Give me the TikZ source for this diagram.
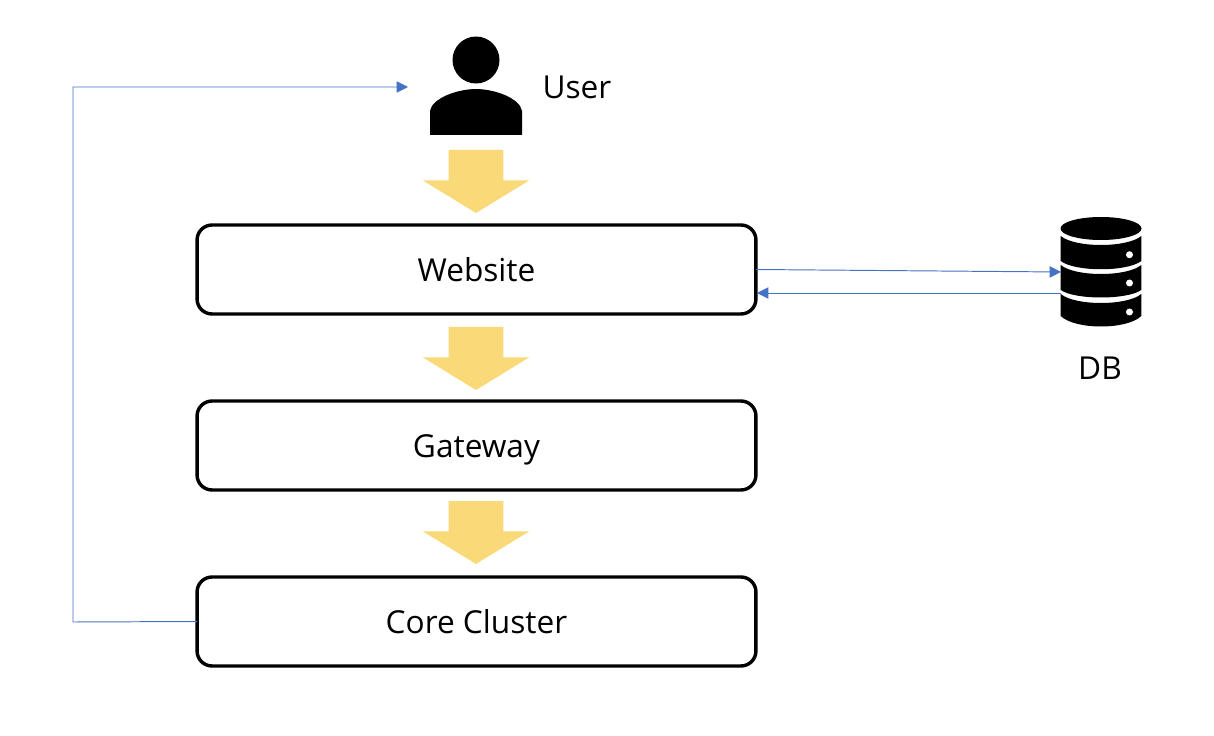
\documentclass[tikz,border=0pt]{standalone}
\usepackage{fontspec}
\setmainfont{Open Sans}
\usetikzlibrary{arrows.meta,shapes.arrows}
\definecolor{flowyellow}{HTML}{F9D978}
\definecolor{linkblue}{HTML}{4472C4}
\tikzset{
    layerbox/.style={draw,line width=1.95pt,rounded corners=0.3cm,minimum width=11.18cm,minimum height=1.78cm,outer sep=0pt,text height=0.5cm,text depth=0pt,font=\fontsize{18}{22}\selectfont},
    caption/.style={inner sep=0pt,font=\fontsize{18}{22}\selectfont},
    flowarrow/.style={fill=flowyellow,single arrow,single arrow tip angle=117,single arrow head extend=0.52cm,minimum width=2.12cm,minimum height=1.26cm,inner xsep=0pt,inner ysep=0.54cm,outer sep=0pt,rotate=-90,anchor=tail},
    link/.style={linkblue,line width=0.55pt,-{Triangle[length=6.5pt,width=6.5pt]}}
}
\begin{document}
\begin{tikzpicture}[x=0.02cm,y=-0.02cm]
    \useasboundingbox (0,0) rectangle (1214,736);

    % User icon
    \node[circle,fill=black,minimum size=0.94cm,inner sep=0pt] (userhead) at (476,60) {};
    \fill (430,135) -- (430,111) .. controls (432,98) and (458,89) .. (476,89)
        .. controls (494,89) and (520,98) .. (522,111) -- (522,135) -- cycle;
    \node[caption] (usertext) at (577,87) {User};

    % Layers
    \node[layerbox] (website) at (476.5,269.5) {Website};
    \node[layerbox] (gateway) at (476.5,445.5) {Gateway};
    \node[layerbox] (corecluster) at (476.5,621.5) {Core Cluster};

    % Flow arrows
    \foreach \name/\y in {userflow/150,webflow/327,gateflow/501}
        \node[flowarrow] (\name) at (476,\y) {};

    % DB icon
    \fill (1101,228.5) ellipse [x radius=40.5,y radius=11.5];
    \fill (1060.7,236) .. controls (1075,248) and (1127,248) .. (1141.3,236)
        -- (1141.3,261) .. controls (1127,272) and (1075,272) .. (1060.7,261) -- cycle;
    \fill (1060.7,265) .. controls (1075,277) and (1127,277) .. (1141.3,265)
        -- (1141.3,290) .. controls (1127,300) and (1075,300) .. (1060.7,290) -- cycle;
    \fill (1060.7,294) .. controls (1075,306) and (1127,306) .. (1141.3,294)
        -- (1141.3,316) .. controls (1127,330) and (1075,330) .. (1060.7,316) -- cycle;
    \foreach \y in {254.7,283,312}
        \fill[white] (1129.5,\y) circle (0.07cm);
    \node[caption] (dbtext) at (1100,368) {DB};

    % Links
    \coordinate (dbin) at (1061,272);
    \coordinate (dbout) at (1061,293);
    \coordinate (webin) at (757,293);
    \coordinate (userin) at (408,87);
    \coordinate (leftturn) at (73,622);
    \coordinate (topturn) at (73,87);
    \draw[link] (website.east) -- (dbin);
    \draw[link] (dbout) -- (webin);
    \draw[link] (corecluster.west) -- (leftturn) -- (topturn) -- (userin);
\end{tikzpicture}
\end{document}
